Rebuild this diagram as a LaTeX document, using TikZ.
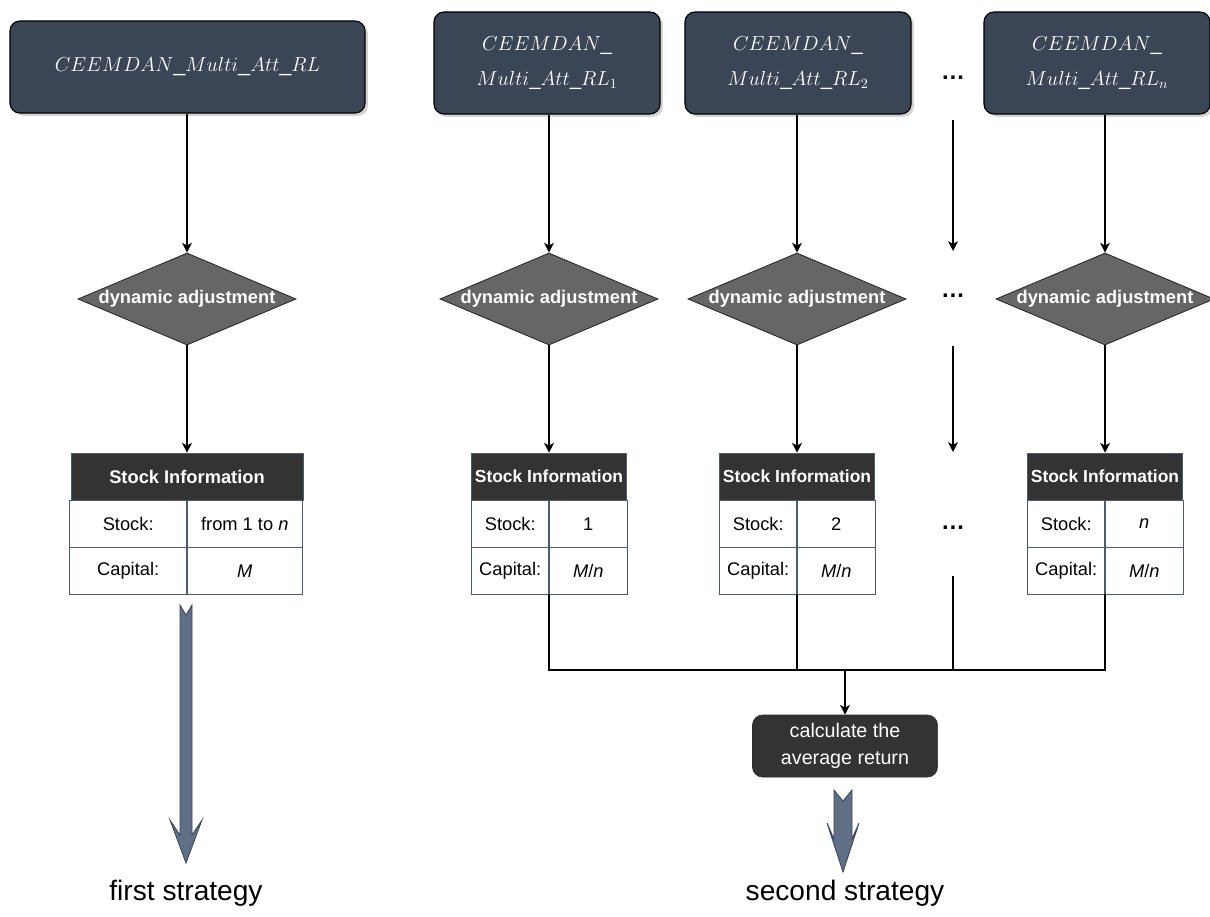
\documentclass[tikz,border=0pt]{standalone}
\usepackage{fontspec}
\setmainfont{Liberation Sans}
\usetikzlibrary{arrows.meta, shapes.geometric, shadows}

\definecolor{modelc}{HTML}{3A4556}
\definecolor{diac}{HTML}{666666}
\definecolor{hdrc}{HTML}{333333}
\definecolor{tline}{HTML}{4B5B70}
\definecolor{fatc}{HTML}{5F6F86}
\definecolor{fatline}{HTML}{3B4656}

\begin{document}
\begin{tikzpicture}[x=0.025cm, y=-0.025cm,
	model/.style={draw=black, line width=0.8pt, fill=modelc, rounded corners=0.25cm, text=white, align=center, font=\fontsize{14.5}{18}\selectfont, drop shadow={shadow xshift=2pt, shadow yshift=-2pt, opacity=0.35}},
	dia/.style={diamond, draw=black!85, line width=0.6pt, fill=diac, minimum width=5.45cm, minimum height=2.3cm, inner sep=0pt},
	dlab/.style={text=white, font=\bfseries\fontsize{13}{15}\selectfont},
	hdr/.style={draw=tline, fill=hdrc, text=white, minimum height=1.175cm, inner sep=0pt},
	cell/.style={draw=tline, fill=white, minimum height=1.1625cm, inner sep=0pt, font=\fontsize{13}{15}\selectfont},
	dots/.style={font=\bfseries\fontsize{17}{19}\selectfont},
	arr/.style={-{Stealth[length=7pt, width=7pt, inset=2pt]}, line width=0.8pt},
	bus/.style={line width=0.8pt},
	calcbox/.style={fill=hdrc, draw=hdrc!80!black, rounded corners=0.25cm, text=white, align=center, minimum width=4.625cm, minimum height=1.55cm, font=\fontsize{14}{19}\selectfont},
	fatarrow/.style={fill=fatc, draw=fatline, line width=0.6pt, line join=miter},
	strat/.style={font=\fontsize{20}{23}\selectfont}]
	\useasboundingbox (0,0) rectangle (1210,916);

	% models
	\node[model, minimum width=8.875cm, minimum height=2.3cm, font=\fontsize{15.4}{18}\selectfont] (m0) at (187.5,67) {$CEEMDAN\_Multi\_Att\_RL$};
	\node[model, minimum width=5.65cm, minimum height=2.55cm] (m1) at (547,63) {$CEEMDAN\_$\\[7pt]$Multi\_Att\_RL_1$};
	\node[model, minimum width=5.65cm, minimum height=2.55cm] (m2) at (798,63) {$CEEMDAN\_$\\[7pt]$Multi\_Att\_RL_2$};
	\node[model, minimum width=5.65cm, minimum height=2.55cm] (mn) at (1097,63) {$CEEMDAN\_$\\[7pt]$Multi\_Att\_RL_n$};
	\node[dots] (dt0) at (953,78) {\dots};

	% dynamic adjustment
	\node[dia, label={[dlab]center:dynamic adjustment}] (d0) at (187,299) {};
	\node[dia, label={[dlab]center:dynamic adjustment}] (d1) at (549,299) {};
	\node[dia, label={[dlab]center:dynamic adjustment}] (d2) at (797,299) {};
	\node[dia, label={[dlab]center:dynamic adjustment}] (dn) at (1105,299) {};
	\node[dots] (dt1) at (953,296) {\dots};

	% stock information
	\node[hdr, minimum width=5.8cm, font=\bfseries\fontsize{13}{15}\selectfont] (t0) at (187,476.5) {Stock Information};
	\node[cell, minimum width=2.925cm, anchor=north east] (t0sl) at (t0.south) {Stock:};
	\node[cell, minimum width=2.875cm, anchor=north west] (t0sv) at (t0.south) {from 1 to \textit{n}};
	\node[cell, minimum width=2.925cm, anchor=north east] (t0cl) at (t0sl.south east) {Capital:};
	\node[cell, minimum width=2.875cm, anchor=north west] (t0cv) at (t0sl.south east) {\textit{M}};

	\node[hdr, minimum width=3.875cm, font=\bfseries\fontsize{12.4}{14}\selectfont] (t1) at (549,476.5) {Stock Information};
	\node[cell, minimum width=1.925cm, anchor=north east] (t1sl) at (t1.south) {Stock:};
	\node[cell, minimum width=1.95cm, anchor=north west] (t1sv) at (t1.south) {1};
	\node[cell, minimum width=1.925cm, anchor=north east] (t1cl) at (t1sl.south east) {Capital:};
	\node[cell, minimum width=1.95cm, anchor=north west] (t1cv) at (t1sl.south east) {\textit{M}/\textit{n}};

	\node[hdr, minimum width=3.875cm, font=\bfseries\fontsize{12.4}{14}\selectfont] (t2) at (797,476.5) {Stock Information};
	\node[cell, minimum width=1.925cm, anchor=north east] (t2sl) at (t2.south) {Stock:};
	\node[cell, minimum width=1.95cm, anchor=north west] (t2sv) at (t2.south) {2};
	\node[cell, minimum width=1.925cm, anchor=north east] (t2cl) at (t2sl.south east) {Capital:};
	\node[cell, minimum width=1.95cm, anchor=north west] (t2cv) at (t2sl.south east) {\textit{M}/\textit{n}};

	\node[hdr, minimum width=3.875cm, font=\bfseries\fontsize{12.4}{14}\selectfont] (tn) at (1105,476.5) {Stock Information};
	\node[cell, minimum width=1.925cm, anchor=north east] (tnsl) at (tn.south) {Stock:};
	\node[cell, minimum width=1.95cm, anchor=north west] (tnsv) at (tn.south) {\textit{n}};
	\node[cell, minimum width=1.925cm, anchor=north east] (tncl) at (tnsl.south east) {Capital:};
	\node[cell, minimum width=1.95cm, anchor=north west] (tncv) at (tnsl.south east) {\textit{M}/\textit{n}};
	\node[dots] (dt2) at (953,528) {\dots};

	% average
	\node[calcbox] (calc) at (845,746) {calculate the\\average return};

	% arrows
	\draw[arr] (m0.south -| d0.north) -- (d0.north);
	\draw[arr] (m1.south -| d1.north) -- (d1.north);
	\draw[arr] (m2.south -| d2.north) -- (d2.north);
	\draw[arr] (mn.south -| dn.north) -- (dn.north);
	\draw[arr] (d0.south) -- (t0.north);
	\draw[arr] (d1.south) -- (t1.north);
	\draw[arr] (d2.south) -- (t2.north);
	\draw[arr] (dn.south) -- (tn.north);

	\coordinate (q1) at (953,120);
	\coordinate (q2) at (953,251);
	\coordinate (q3) at (953,346);
	\coordinate (q4) at (953,452);
	\coordinate (q5) at (953,576);
	\coordinate (join) at (845,670);
	\draw[arr] (q1) -- (q2);
	\draw[arr] (q3) -- (q4);

	\draw[bus] (t1cl.south east) |- (join) -| (tncl.south east);
	\draw[bus] (t2cl.south east) -- (t2cl.south east |- join);
	\draw[bus] (q5) -- (q5 |- join);
	\draw[arr] (join) -- (calc.north);

	% strategies
	\filldraw[fatarrow, shift={(186,0)}] (-6,605) -- (0,615) -- (6,605) -- (6,835) -- (16,820) -- (0,863) -- (-16,820) -- (-6,835) -- cycle;
	\filldraw[fatarrow, shift={(843,0)}] (-9,790) -- (0,801) -- (9,790) -- (9,839) -- (16,823) -- (0,872) -- (-16,823) -- (-9,839) -- cycle;
	\node[strat] (s0) at (186,893) {first strategy};
	\node[strat] (s1) at (845,893) {second strategy};
\end{tikzpicture}
\end{document}
